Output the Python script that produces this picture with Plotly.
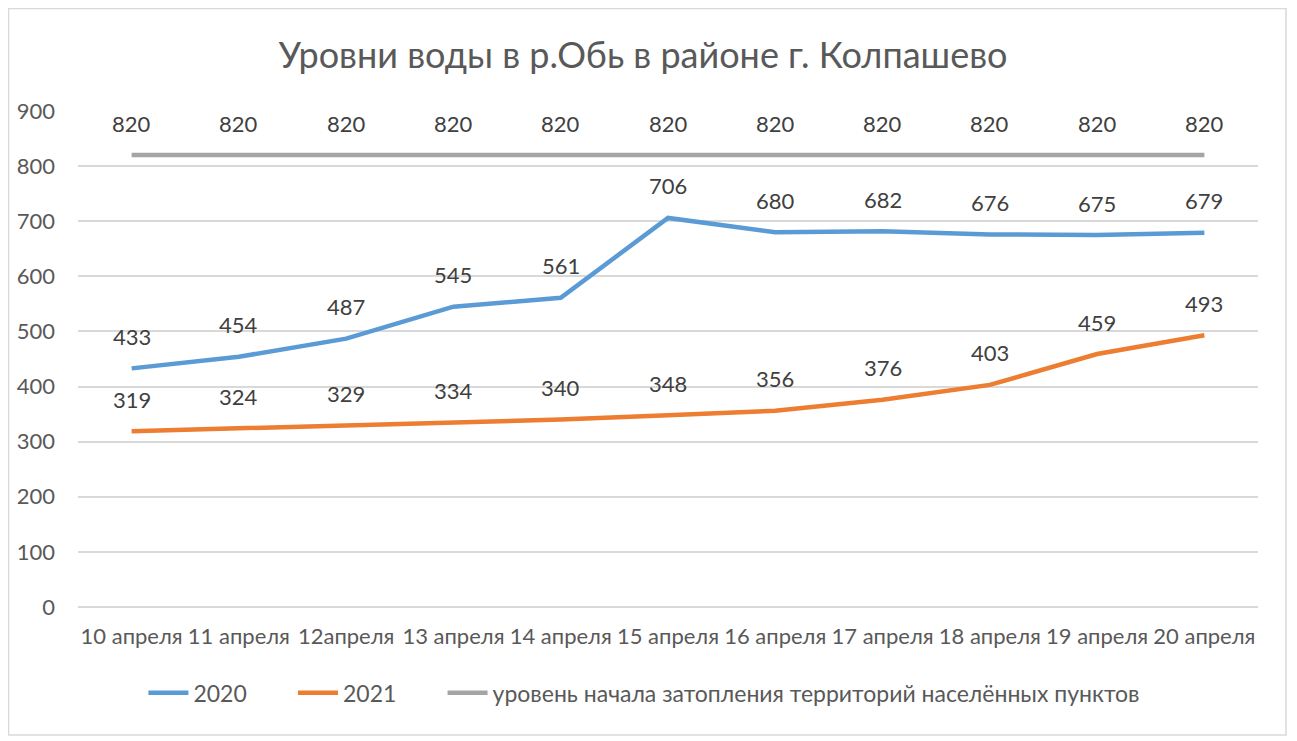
import plotly.graph_objects as go

categories = ["10 апреля", "11 апреля", "12апреля", "13 апреля", "14 апреля", "15 апреля",
              "16 апреля", "17 апреля", "18 апреля", "19 апреля", "20 апреля"]
values_2020 = [433, 454, 487, 545, 561, 706, 680, 682, 676, 675, 679]
values_2021 = [319, 324, 329, 334, 340, 348, 356, 376, 403, 459, 493]
values_flood = [820] * 11

NB = "\u00a0" * 7
series = [
    ("2020" + NB, values_2020, "#5B9BD5"),
    ("2021" + NB, values_2021, "#ED7D31"),
    ("уровень начала затопления территорий населённых пунктов", values_flood, "#A5A5A5"),
]

FONT = "Lato, 'Open Sans', sans-serif"
fig = go.Figure()
annotations = []
for name, vals, color in series:
    fig.add_trace(go.Scatter(x=categories, y=vals, mode="lines", name=name,
                             line=dict(color=color, width=4.5)))
    for c, v in zip(categories, vals):
        annotations.append(dict(x=c, y=v, xref="x", yref="y", text=str(v), showarrow=False,
                                yshift=32, font=dict(size=22, color="#404040", family=FONT)))

fig.update_layout(
    width=1289, height=733,
    margin=dict(l=70, r=39, t=103, b=134),
    paper_bgcolor="white", plot_bgcolor="white",
    title=dict(text="Уровни воды в р.Обь в районе г. Колпашево", x=0.4926, xanchor="center",
               y=0.936, yanchor="middle", font=dict(size=36, color="#595959", family=FONT)),
    font=dict(family=FONT, color="#595959", size=22),
    xaxis=dict(type="category", showgrid=False, showline=False, ticks="",
               tickfont=dict(size=22, color="#595959"), range=[-0.5, 10.5],
               ticklabelstandoff=14),
    yaxis=dict(range=[0, 900], dtick=100, showgrid=True, gridcolor="#D9D9D9", gridwidth=1.5,
               zeroline=True, zerolinecolor="#D9D9D9", zerolinewidth=1.5,
               showline=False, ticks="", ticklabelstandoff=22,
               tickfont=dict(size=22, color="#595959")),
    legend=dict(orientation="h", x=0.48, xanchor="center", y=-0.173, yanchor="middle",
                font=dict(size=23, color="#595959"), itemwidth=40, tracegroupgap=0),
    annotations=annotations,
    shapes=[dict(type="rect", xref="paper", yref="paper", x0=-0.0589, x1=1.0237,
                 y0=-0.258, y1=1.2067, line=dict(color="#D9D9D9", width=1.5))],
    showlegend=True,
)
fig.update_xaxes(automargin=False)
fig.update_yaxes(automargin=False)
fig.write_html("out.html")
